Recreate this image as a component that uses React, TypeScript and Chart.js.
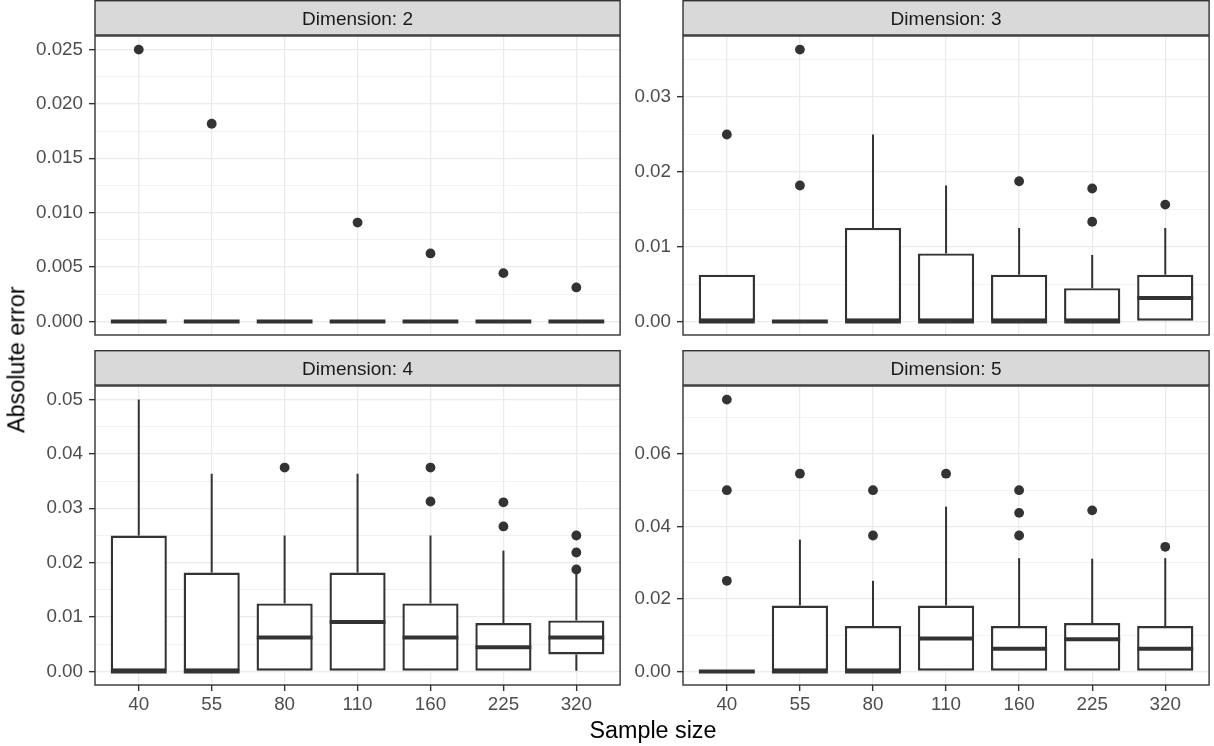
import React, { useEffect, useRef } from "react";
import { Chart, registerables } from "chart.js";

Chart.register(...registerables);

const FONT = "'Liberation Sans', Arial, Helvetica, sans-serif";
Chart.defaults.font.family = FONT;

const sampleSizes = ["40", "55", "80", "110", "160", "225", "320"];

// Dimension: 2
const dim2Q1 = [0, 0, 0, 0, 0, 0, 0];
const dim2Median = [0, 0, 0, 0, 0, 0, 0];
const dim2Q3 = [0, 0, 0, 0, 0, 0, 0];
const dim2WhiskerLow = [0, 0, 0, 0, 0, 0, 0];
const dim2WhiskerHigh = [0, 0, 0, 0, 0, 0, 0];
const dim2Outliers = [[0.025], [0.01818], [], [0.00909], [0.00625], [0.00444], [0.003125]];
const dim2TickValues = [0, 0.005, 0.01, 0.015, 0.02, 0.025];
const dim2TickLabels = ["0.000", "0.005", "0.010", "0.015", "0.020", "0.025"];
const dim2MinorTicks = [0.0025, 0.0075, 0.0125, 0.0175, 0.0225];

// Dimension: 3
const dim3Q1 = [0, 0, 0, 0, 0, 0, 0];
const dim3Median = [0, 0, 0, 0, 0, 0, 0.003125];
const dim3Q3 = [0.00625, 0, 0.0125, 0.00909, 0.00625, 0.00444, 0.00625];
const dim3WhiskerLow = [0, 0, 0, 0, 0, 0, 0];
const dim3WhiskerHigh = [0.00625, 0, 0.025, 0.01818, 0.0125, 0.00889, 0.0125];
const dim3Outliers = [[0.025], [0.01818, 0.03636], [], [], [0.01875], [0.01333, 0.01778], [0.015625]];
const dim3TickValues = [0, 0.01, 0.02, 0.03];
const dim3TickLabels = ["0.00", "0.01", "0.02", "0.03"];
const dim3MinorTicks = [0.005, 0.015, 0.025, 0.035];

// Dimension: 4
const dim4Q1 = [0, 0, 0, 0, 0, 0, 0.003125];
const dim4Median = [0, 0, 0.00625, 0.00909, 0.00625, 0.00444, 0.00625];
const dim4Q3 = [0.025, 0.01818, 0.0125, 0.01818, 0.0125, 0.00889, 0.009375];
const dim4WhiskerLow = [0, 0, 0, 0, 0, 0, 0];
const dim4WhiskerHigh = [0.05, 0.03636, 0.025, 0.03636, 0.025, 0.02222, 0.01875];
const dim4Outliers = [[], [], [0.0375], [], [0.03125, 0.0375], [0.02667, 0.03111], [0.01875, 0.021875, 0.025]];
const dim4TickValues = [0, 0.01, 0.02, 0.03, 0.04, 0.05];
const dim4TickLabels = ["0.00", "0.01", "0.02", "0.03", "0.04", "0.05"];
const dim4MinorTicks = [0.005, 0.015, 0.025, 0.035, 0.045];

// Dimension: 5
const dim5Q1 = [0, 0, 0, 0, 0, 0, 0];
const dim5Median = [0, 0, 0, 0.00909, 0.00625, 0.00889, 0.00625];
const dim5Q3 = [0, 0.01818, 0.0125, 0.01818, 0.0125, 0.01333, 0.0125];
const dim5WhiskerLow = [0, 0, 0, 0, 0, 0, 0];
const dim5WhiskerHigh = [0, 0.03636, 0.025, 0.04545, 0.03125, 0.03111, 0.03125];
const dim5Outliers = [[0.025, 0.05, 0.075], [0.05455], [0.0375, 0.05], [0.05455], [0.0375, 0.04375, 0.05], [0.04444], [0.034375]];
const dim5TickValues = [0, 0.02, 0.04, 0.06];
const dim5TickLabels = ["0.00", "0.02", "0.04", "0.06"];
const dim5MinorTicks = [0.01, 0.03, 0.05, 0.07];

type PanelSpec = {
  title: string;
  q1: number[];
  median: number[];
  q3: number[];
  lo: number[];
  hi: number[];
  outliers: number[][];
  tickValues: number[];
  tickLabels: string[];
  minorTicks: number[];
  left: number;
  top: number;
  width: number;
  height: number;
  yWidth: number;
  padRight: number;
  padTop: number;
  padBottom: number;
  xHeight: number;
  showX: boolean;
};

const panels: PanelSpec[] = [
  {
    title: "Dimension: 2", q1: dim2Q1, median: dim2Median, q3: dim2Q3, lo: dim2WhiskerLow, hi: dim2WhiskerHigh,
    outliers: dim2Outliers, tickValues: dim2TickValues, tickLabels: dim2TickLabels, minorTicks: dim2MinorTicks,
    left: 0, top: 0, width: 625, height: 360, yWidth: 95, padRight: 2, padTop: 36, padBottom: 25, xHeight: 0, showX: false,
  },
  {
    title: "Dimension: 3", q1: dim3Q1, median: dim3Median, q3: dim3Q3, lo: dim3WhiskerLow, hi: dim3WhiskerHigh,
    outliers: dim3Outliers, tickValues: dim3TickValues, tickLabels: dim3TickLabels, minorTicks: dim3MinorTicks,
    left: 625, top: 0, width: 589, height: 360, yWidth: 58, padRight: 3, padTop: 36, padBottom: 25, xHeight: 0, showX: false,
  },
  {
    title: "Dimension: 4", q1: dim4Q1, median: dim4Median, q3: dim4Q3, lo: dim4WhiskerLow, hi: dim4WhiskerHigh,
    outliers: dim4Outliers, tickValues: dim4TickValues, tickLabels: dim4TickLabels, minorTicks: dim4MinorTicks,
    left: 0, top: 350, width: 625, height: 396, yWidth: 95, padRight: 2, padTop: 36, padBottom: 0, xHeight: 61, showX: true,
  },
  {
    title: "Dimension: 5", q1: dim5Q1, median: dim5Median, q3: dim5Q3, lo: dim5WhiskerLow, hi: dim5WhiskerHigh,
    outliers: dim5Outliers, tickValues: dim5TickValues, tickLabels: dim5TickLabels, minorTicks: dim5MinorTicks,
    left: 625, top: 350, width: 589, height: 396, yWidth: 58, padRight: 3, padTop: 36, padBottom: 0, xHeight: 61, showX: true,
  },
];

const INK = "#333333";
const GRID = "#EBEBEB";

const panelDecor = {
  id: "panelDecor",
  afterDraw(chart: any, _args: any, opts: any) {
    const { ctx, chartArea } = chart;
    const { left, right, top, bottom } = chartArea;
    ctx.save();
    // panel border
    ctx.strokeStyle = INK;
    ctx.lineWidth = 1.4;
    ctx.strokeRect(left, top, right - left, bottom - top);
    // strip
    const stripTop = 0.7;
    const stripBottom = top - 1;
    ctx.fillStyle = "#D9D9D9";
    ctx.fillRect(left, stripTop, right - left, stripBottom - stripTop);
    ctx.strokeRect(left, stripTop, right - left, stripBottom - stripTop);
    ctx.fillStyle = "#1A1A1A";
    ctx.font = `19px ${FONT}`;
    ctx.textAlign = "center";
    ctx.textBaseline = "alphabetic";
    ctx.fillText(opts.title, (left + right) / 2, 25.3);
    ctx.restore();
  },
};

function makeConfig(p: PanelSpec): any {
  const dataMax = Math.max(...p.hi, ...p.q3, ...p.outliers.flat());
  const dataMin = Math.min(...p.lo, ...p.q1, 0);
  const range = dataMax - dataMin;
  const yMin = dataMin - 0.05 * range;
  const yMax = dataMax + 0.05 * range;

  const yTicks = [
    ...p.tickValues.map((v, i) => ({ value: v, isMajor: true, text: p.tickLabels[i] })),
    ...p.minorTicks.map((v) => ({ value: v, isMajor: false, text: "" })),
  ].sort((a, b) => a.value - b.value);

  const halfBox = (ctx: any) => {
    const xs = ctx.chart.scales.x;
    return xs.getPixelForValue(1.3825) - xs.getPixelForValue(1);
  };

  const idx = sampleSizes.map((_, i) => i + 1);

  return {
    type: "bar",
    data: {
      datasets: [
        {
          type: "bar",
          label: "upper whisker",
          data: idx.map((x, i) => ({ x, y: [p.q3[i], p.hi[i]] })),
          backgroundColor: INK,
          borderWidth: 0,
          maxBarThickness: 2,
          grouped: false,
          order: 5,
        },
        {
          type: "bar",
          label: "lower whisker",
          data: idx.map((x, i) => ({ x, y: [p.lo[i], p.q1[i]] })),
          backgroundColor: INK,
          borderWidth: 0,
          maxBarThickness: 2,
          grouped: false,
          order: 4,
        },
        {
          type: "bar",
          label: "box",
          data: idx.map((x, i) => ({ x, y: [p.q1[i], p.q3[i]] })),
          backgroundColor: "#FFFFFF",
          borderColor: INK,
          borderWidth: 2.4,
          borderSkipped: false,
          barPercentage: 0.77,
          categoryPercentage: 1,
          grouped: false,
          order: 3,
        },
        {
          type: "scatter",
          label: "median",
          data: idx.map((x, i) => ({ x, y: p.median[i] })),
          pointStyle: "line",
          pointRadius: halfBox,
          pointBorderColor: INK,
          pointBorderWidth: 4,
          showLine: false,
          order: 2,
        },
        {
          type: "scatter",
          label: "outliers",
          data: p.outliers.flatMap((vals, i) => vals.map((v) => ({ x: i + 1, y: v }))),
          pointRadius: 4.9,
          pointBackgroundColor: INK,
          pointBorderWidth: 0,
          showLine: false,
          order: 1,
        },
      ],
    },
    options: {
      animation: false,
      responsive: false,
      events: [],
      layout: { padding: { left: 0, right: p.padRight, top: p.padTop, bottom: p.padBottom } },
      plugins: {
        legend: { display: false },
        tooltip: { enabled: false },
        panelDecor: { title: p.title },
      },
      scales: {
        x: {
          type: "linear",
          min: 0.4,
          max: 7.6,
          offset: false,
          afterBuildTicks: (s: any) => {
            s.ticks = idx.map((v) => ({ value: v }));
          },
          afterFit: (s: any) => {
            s.height = p.xHeight;
          },
          border: { display: false },
          grid: {
            offset: false,
            color: GRID,
            lineWidth: 1.3,
            drawTicks: p.showX,
            tickLength: 6,
            tickColor: INK,
            tickWidth: 1.4,
          },
          ticks: {
            display: p.showX,
            autoSkip: false,
            maxRotation: 0,
            padding: 3,
            color: "#4D4D4D",
            font: { size: 18.8, family: FONT },
            callback: (v: number) => sampleSizes[Math.round(v) - 1] ?? "",
          },
        },
        y: {
          type: "linear",
          min: yMin,
          max: yMax,
          afterBuildTicks: (s: any) => {
            s.ticks = yTicks.map((t) => ({ ...t }));
          },
          afterFit: (s: any) => {
            s.width = p.yWidth;
          },
          border: { display: false },
          grid: {
            color: GRID,
            lineWidth: (c: any) => (c.tick && c.tick.isMajor ? 1.3 : 0.65),
            drawTicks: true,
            tickLength: 6,
            tickWidth: 1.4,
            tickColor: (c: any) => (c.tick && c.tick.isMajor ? INK : "rgba(0,0,0,0)"),
          },
          ticks: {
            autoSkip: false,
            padding: 6,
            color: "#4D4D4D",
            font: { size: 18.8, family: FONT },
            callback: (_v: number, i: number, ticks: any[]) => (ticks[i] && ticks[i].isMajor ? ticks[i].text : ""),
          },
        },
      },
    },
    plugins: [panelDecor],
  };
}

function Panel({ spec }: { spec: PanelSpec }) {
  const ref = useRef<HTMLCanvasElement | null>(null);
  useEffect(() => {
    if (!ref.current) return;
    const chart = new Chart(ref.current, makeConfig(spec));
    return () => chart.destroy();
  }, [spec]);
  return (
    <canvas
      ref={ref}
      width={spec.width}
      height={spec.height}
      style={{ position: "absolute", left: spec.left, top: spec.top, width: spec.width, height: spec.height }}
    />
  );
}

export default function App() {
  useEffect(() => {
    document.body.style.margin = "0";
  }, []);
  return (
    <div style={{ position: "relative", width: 1214, height: 746, overflow: "hidden", background: "#FFFFFF" }}>
      {panels.map((p) => (
        <Panel key={p.title} spec={p} />
      ))}
      <div
        style={{
          position: "absolute",
          left: 653 - 150,
          top: 719.4,
          width: 300,
          textAlign: "center",
          fontFamily: FONT,
          fontSize: 23.3,
          lineHeight: 1,
          color: "#000000",
          whiteSpace: "nowrap",
        }}
      >
        Sample size
      </div>
      <div
        style={{
          position: "absolute",
          left: 17 - 150,
          top: 360 - 11.65,
          width: 300,
          height: 23.3,
          textAlign: "center",
          fontFamily: FONT,
          fontSize: 23.3,
          lineHeight: 1,
          color: "#000000",
          whiteSpace: "nowrap",
          transform: "rotate(-90deg)",
          transformOrigin: "50% 50%",
        }}
      >
        Absolute error
      </div>
    </div>
  );
}
